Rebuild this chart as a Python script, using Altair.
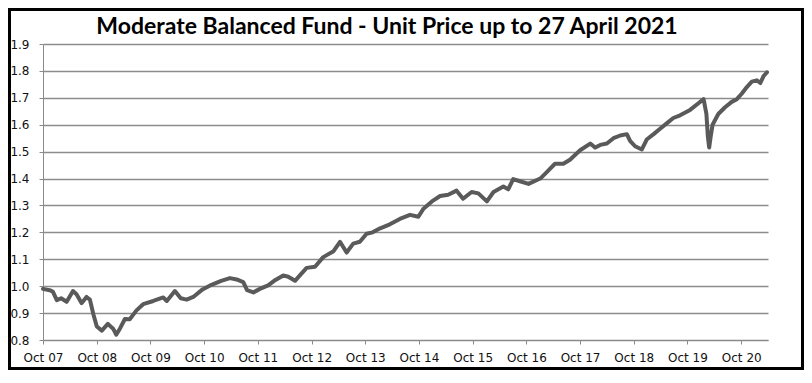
import altair as alt
import pandas as pd

dates = [
    "2007-10-01", "2007-11-15", "2007-12-07", "2008-01-03", "2008-02-01", "2008-03-10",
    "2008-04-22", "2008-05-16", "2008-06-20", "2008-07-23", "2008-08-15", "2008-09-08",
    "2008-10-01", "2008-11-04", "2008-12-15", "2009-01-20", "2009-02-10", "2009-03-07",
    "2009-04-10", "2009-05-13", "2009-06-28", "2009-08-12", "2009-10-20", "2009-12-27",
    "2010-01-20", "2010-03-16", "2010-04-25", "2010-06-04", "2010-07-19", "2010-09-20",
    "2010-11-20", "2011-01-25", "2011-03-25", "2011-05-10", "2011-06-24", "2011-07-20",
    "2011-09-01", "2011-10-15", "2011-12-10", "2012-01-20", "2012-03-22", "2012-04-25",
    "2012-06-10", "2012-07-13", "2012-08-28", "2012-10-24", "2012-12-19", "2013-02-27",
    "2013-04-12", "2013-05-27", "2013-07-11", "2013-08-25", "2013-10-10", "2013-11-20",
    "2014-01-10", "2014-03-17", "2014-05-24", "2014-08-01", "2014-09-27", "2014-11-01",
    "2014-12-28", "2015-02-22", "2015-04-18", "2015-06-14", "2015-07-28", "2015-09-24",
    "2015-11-09", "2016-01-06", "2016-02-20", "2016-04-27", "2016-05-30", "2016-07-03",
    "2016-08-18", "2016-10-15", "2017-01-03", "2017-02-18", "2017-04-13", "2017-06-09",
    "2017-07-24", "2017-10-01", "2017-12-09", "2018-01-12", "2018-02-15", "2018-04-01",
    "2018-05-16", "2018-07-01", "2018-08-15", "2018-09-06", "2018-10-10", "2018-11-25",
    "2018-12-28", "2019-02-13", "2019-03-29", "2019-05-13", "2019-06-27", "2019-08-12",
    "2019-10-19", "2019-12-15", "2020-01-19", "2020-02-07", "2020-02-17", "2020-02-26",
    "2020-03-07", "2020-03-20", "2020-04-28", "2020-06-13", "2020-07-28", "2020-09-01",
    "2020-10-04", "2020-11-08", "2020-12-12", "2021-01-15", "2021-02-08", "2021-03-01",
    "2021-03-25",
]

prices = [
    0.990, 0.985, 0.980, 0.948, 0.955, 0.942,
    0.982, 0.970, 0.937, 0.960, 0.950, 0.895,
    0.850, 0.835, 0.860, 0.842, 0.820, 0.842,
    0.878, 0.877, 0.910, 0.933, 0.945, 0.958,
    0.945, 0.982, 0.955, 0.950, 0.960, 0.988,
    1.005, 1.020, 1.030, 1.025, 1.015, 0.985,
    0.977, 0.990, 1.003, 1.020, 1.040, 1.035,
    1.020, 1.040, 1.068, 1.072, 1.108, 1.130,
    1.165, 1.125, 1.158, 1.165, 1.195, 1.200,
    1.215, 1.230, 1.250, 1.265, 1.258, 1.288,
    1.315, 1.335, 1.340, 1.355, 1.325, 1.350,
    1.345, 1.315, 1.350, 1.370, 1.360, 1.398,
    1.390, 1.380, 1.400, 1.425, 1.455, 1.455,
    1.470, 1.505, 1.530, 1.515, 1.525, 1.530,
    1.550, 1.560, 1.565, 1.540, 1.520, 1.508,
    1.545, 1.565, 1.585, 1.605, 1.625, 1.635,
    1.655, 1.680, 1.695, 1.640, 1.555, 1.515,
    1.555, 1.600, 1.640, 1.665, 1.685, 1.695,
    1.715, 1.740, 1.760, 1.765, 1.755, 1.780,
    1.795,
]

tick_years = list(range(2007, 2021))
y_ticks = [0.8, 0.9, 1.0, 1.1, 1.2, 1.3, 1.4, 1.5, 1.6, 1.7, 1.8, 1.9]
title_text = "Moderate Balanced Fund - Unit Price up to 27 April 2021"

df = pd.DataFrame({"date": dates, "price": prices})

x_enc = alt.X(
    "date:T",
    scale=alt.Scale(
        type="utc",
        domain=[alt.DateTime(year=2007, month=10, date=1, utc=True),
                alt.DateTime(year=2021, month=4, date=1, utc=True)],
    ),
    axis=alt.Axis(
        title=None,
        values=[alt.DateTime(year=y, month=10, date=1, utc=True) for y in tick_years],
        format="%b %y",
        grid=False,
        tickSize=4,
        labelPadding=8,
        labelFlush=False,
        domainColor="#8a8a8a",
        tickColor="#8a8a8a",
    ),
)

y_enc = alt.Y(
    "price:Q",
    scale=alt.Scale(domain=[0.8, 1.9], nice=False, zero=False),
    axis=alt.Axis(
        title=None,
        values=y_ticks,
        format=".1f",
        grid=True,
        gridColor="#8c8c8c",
        gridWidth=1.4,
        tickSize=4,
        labelPadding=10,
        domainColor="#8a8a8a",
        tickColor="#8a8a8a",
    ),
)

line = alt.Chart(df).mark_line(
    color="#5a5a5a", strokeWidth=4, strokeJoin="round", strokeCap="round"
).encode(x=x_enc, y=y_enc)

frame = alt.Chart(alt.Data(values=[{}])).mark_rect(
    fillOpacity=0, stroke="black", strokeWidth=3
).encode(
    x=alt.value(-33.5), x2=alt.value(759.5),
    y=alt.value(-34.5), y2=alt.value(324.5),
)

title = alt.Chart(alt.Data(values=[{}])).mark_text(
    text=title_text,
    font="Lato",
    fontSize=23,
    fontWeight="bold",
    color="black",
    align="center",
    baseline="alphabetic",
).encode(x=alt.value(344), y=alt.value(-10))

chart = alt.layer(line, frame, title).properties(
    width=725,
    height=296,
    autosize=alt.AutoSizeParams(type="none"),
    padding={"left": 35, "top": 36, "right": 36, "bottom": 30},
).configure_view(strokeWidth=0).configure_axis(
    labelFont="DejaVu Sans",
    labelFontSize=12,
    labelColor="#111111",
)

chart.save("out.html", embed_options={"renderer": "svg", "actions": False})
